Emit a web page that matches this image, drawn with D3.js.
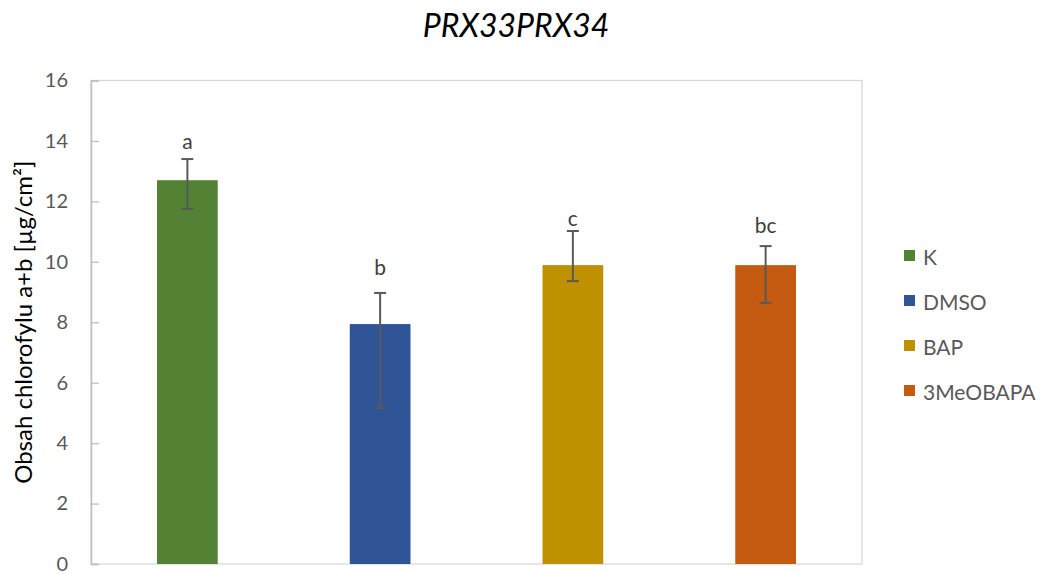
<!DOCTYPE html>
<html>
<head>
<meta charset="utf-8">
<script src="https://cdn.jsdelivr.net/npm/d3@7"></script>
<style>
  html, body { margin: 0; padding: 0; background: #fff; }
  svg { display: block; font-family: Lato, "Open Sans", sans-serif; }
</style>
</head>
<body>
<svg id="chart" width="1040" height="574"></svg>
<script>
// ---- data ----
const categories = ["K", "DMSO", "BAP", "3MeOBAPA"];
const values = [12.7, 7.94, 9.89, 9.89];
const errUpper = [13.40, 8.97, 11.02, 10.52];
const errLower = [11.75, 5.16, 9.36, 8.64];
const letters = ["a", "b", "c", "bc"];
const letterAt = [14.03, 9.83, 11.45, 11.25];
const colors = ["#548235", "#2F5597", "#BF9000", "#C55A11"];
const yTicks = [0, 2, 4, 6, 8, 10, 12, 14, 16];
const title = "PRX33PRX34";
const yTitle = "Obsah chlorofylu a+b [µg/cm²]";

// ---- layout ----
const svg = d3.select("#chart");
const plot = { left: 91, right: 862, top: 80.5, bottom: 564 };

const x = d3.scaleBand().domain(categories).range([plot.left, plot.right]).paddingInner(0.685).paddingOuter(0.3425);
const y = d3.scaleLinear().domain([0, 16]).range([plot.bottom, plot.top]);

// frame
svg.append("rect")
  .attr("x", plot.left).attr("y", plot.top)
  .attr("width", plot.right - plot.left).attr("height", plot.bottom - plot.top)
  .attr("fill", "none").attr("stroke", "#d9d9d9").attr("stroke-width", 1.3);

// y axis
const yAxis = d3.axisLeft(y).tickValues(yTicks).tickSize(-8).tickPadding(23).tickFormat(d3.format("d"));
const ya = svg.append("g").attr("transform", `translate(${plot.left},0)`).call(yAxis);
ya.select(".domain").attr("stroke", "#bfbfbf").attr("stroke-width", 1.5);
ya.selectAll(".tick line").attr("stroke", "#bfbfbf").attr("stroke-width", 1.3);
ya.selectAll(".tick text").attr("fill", "#595959").style("font-size", "20px").style("font-family", "Lato, sans-serif");

// bars
svg.append("g").selectAll("rect").data(categories).join("rect")
  .attr("x", d => x(d))
  .attr("y", (d, i) => y(values[i]))
  .attr("width", x.bandwidth())
  .attr("height", (d, i) => y(0) - y(values[i]))
  .attr("fill", (d, i) => colors[i]);

// error bars
const eb = svg.append("g").attr("stroke", "#595959").attr("stroke-width", 2);
categories.forEach((c, i) => {
  const cx = x(c) + x.bandwidth() / 2;
  eb.append("line").attr("x1", cx).attr("x2", cx).attr("y1", y(errUpper[i])).attr("y2", y(errLower[i]));
  eb.append("line").attr("x1", cx - 6).attr("x2", cx + 6).attr("y1", y(errUpper[i])).attr("y2", y(errUpper[i]));
  eb.append("line").attr("x1", cx - 6).attr("x2", cx + 6).attr("y1", y(errLower[i])).attr("y2", y(errLower[i]));
});

// letters
svg.append("g").selectAll("text").data(letters).join("text")
  .attr("x", (d, i) => x(categories[i]) + x.bandwidth() / 2)
  .attr("y", (d, i) => y(letterAt[i]))
  .attr("text-anchor", "middle").attr("dominant-baseline", "central")
  .attr("fill", "#404040").style("font-size", "21px")
  .text(d => d);

// title
svg.append("text").attr("x", 516).attr("y", 37)
  .attr("text-anchor", "middle").attr("fill", "#000")
  .style("font-size", "32px").style("font-style", "italic")
  .text(title);

// y title
svg.append("text")
  .attr("transform", `translate(32,${(plot.top + plot.bottom) / 2}) rotate(-90)`)
  .attr("text-anchor", "middle").attr("fill", "#000")
  .style("font-size", "24px")
  .text(yTitle);

// legend
const lg = svg.append("g").selectAll("g").data(categories).join("g")
  .attr("transform", (d, i) => `translate(904,${256 + i * 45})`);
lg.append("rect").attr("x", 0).attr("y", -6).attr("width", 11).attr("height", 11).attr("fill", (d, i) => colors[i]);
lg.append("text").attr("x", 19).attr("y", 0).attr("dominant-baseline", "central")
  .attr("fill", "#595959").style("font-size", "21px").text(d => d);
</script>
</body>
</html>
